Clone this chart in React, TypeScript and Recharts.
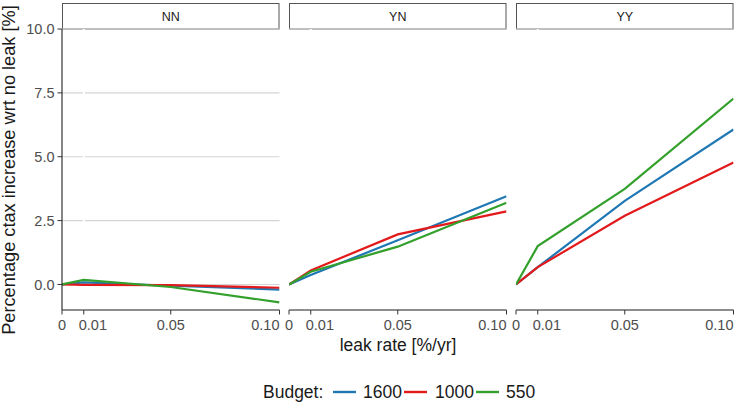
import React from "react";
import { LineChart, Line, XAxis, YAxis, CartesianGrid, ReferenceLine } from "recharts";

const leakRates = [0, 0.01, 0.05, 0.1];
const xTicks = [0, 0.01, 0.05, 0.1];
const xTickLabels = ["0", "0.01", "0.05", "0.10"];
const yTicks = [0, 2.5, 5, 7.5, 10];
const yTickLabels = ["0.0", "2.5", "5.0", "7.5", "10.0"];
const panels = ["NN", "YN", "YY"];
const budgets = ["1600", "1000", "550"];
const colors = ["#1f78b4", "#e31a1c", "#33a02c"];

// values per panel, per budget
const nn1600 = [0, 0.08, -0.05, -0.2];
const nn1000 = [0, -0.02, -0.03, -0.13];
const nn550 = [0, 0.18, -0.1, -0.7];
const yn1600 = [0, 0.37, 1.73, 3.45];
const yn1000 = [0, 0.55, 1.96, 2.86];
const yn550 = [0, 0.5, 1.48, 3.2];
const yy1600 = [0, 0.68, 3.27, 6.07];
const yy1000 = [0, 0.68, 2.69, 4.77];
const yy550 = [0, 1.5, 3.74, 7.28];

const panelSeries = [
  [nn1600, nn1000, nn550],
  [yn1600, yn1000, yn550],
  [yy1600, yy1000, yy550],
];

const buildData = (series: number[][]) =>
  leakRates.map((x, i) => ({
    x,
    b1600: series[0][i],
    b1000: series[1][i],
    b550: series[2][i],
  }));

const FONT = "'Liberation Sans', Arial, Helvetica, sans-serif";
const PLOT_W = 217.5;
const PLOT_TOP = 29;
const PLOT_H = 281;
const X_AXIS_H = 30;
const panelLefts = [62, 289, 516];
const M_TOP = 12;
const M_SIDE = 24;
const TICK_FONT = 14.5;
const TICK_COLOR = "#4d4d4d";

// label alignment per x tick (as drawn in the reference)
const xTickAnchor = ["middle", "start", "middle", "end"];
const xTickDx = [0, -5, 0, 0];

const yFmt = (v: number) => {
  const i = yTicks.indexOf(v);
  return i >= 0 ? yTickLabels[i] : String(v);
};

function XTick(props: any) {
  const { x, y, payload } = props;
  const i = xTicks.indexOf(payload.value);
  return (
    <text
      x={x + (i >= 0 ? xTickDx[i] : 0)}
      y={y}
      dy="0.71em"
      textAnchor={i >= 0 ? xTickAnchor[i] : "middle"}
      fill={TICK_COLOR}
      fontSize={TICK_FONT}
      fontFamily={FONT}
    >
      {i >= 0 ? xTickLabels[i] : String(payload.value)}
    </text>
  );
}

function Panel({ idx }: { idx: number }) {
  const data = buildData(panelSeries[idx]);
  const first = idx === 0;
  const yW = first ? 62 : 0;
  const mLeft = first ? 0 : M_SIDE;
  const left = panelLefts[idx] - yW - mLeft;
  return (
    <div style={{ position: "absolute", left, top: PLOT_TOP - M_TOP }}>
      <LineChart
        width={mLeft + yW + PLOT_W + M_SIDE}
        height={M_TOP + PLOT_H + X_AXIS_H}
        data={data}
        margin={{ top: M_TOP, right: M_SIDE, bottom: 0, left: mLeft }}
      >
        <CartesianGrid vertical={false} stroke="#d4d4d4" strokeWidth={1.1} />
        <ReferenceLine x={0.01} stroke="#ffffff" strokeWidth={2} ifOverflow="hidden" />
        <XAxis
          dataKey="x"
          type="number"
          domain={[0, 0.1]}
          ticks={xTicks}
          height={X_AXIS_H}
          interval={0}
          tickSize={4.5}
          tickLine={{ stroke: "#333333" }}
          axisLine={{ stroke: "#333333", strokeWidth: 1.2 }}
          tick={<XTick />}
          tickMargin={5}
          allowDataOverflow
        />
        <YAxis
          type="number"
          domain={[-1, 10]}
          ticks={yTicks}
          tickFormatter={yFmt}
          width={yW}
          interval={0}
          allowDataOverflow
          tick={first ? { fill: TICK_COLOR, fontSize: TICK_FONT, fontFamily: FONT } : false}
          tickSize={first ? 4.5 : 0}
          tickLine={first ? { stroke: "#333333" } : false}
          axisLine={first ? { stroke: "#333333", strokeWidth: 1.2 } : false}
          tickMargin={3}
        />
        {budgets.map((b, i) => (
          <Line
            key={b}
            type="linear"
            dataKey={"b" + b}
            stroke={colors[i]}
            strokeWidth={2.2}
            dot={false}
            isAnimationActive={false}
          />
        ))}
      </LineChart>
    </div>
  );
}

export default function App() {
  const legendItems = [
    { lx: 333, tx: 363 },
    { lx: 404, tx: 435 },
    { lx: 476, tx: 506 },
  ];
  return (
    <div
      style={{
        position: "fixed",
        left: 0,
        top: 0,
        width: 737,
        height: 405,
        background: "#ffffff",
        fontFamily: FONT,
        overflow: "hidden",
      }}
    >
      <svg
        width={737}
        height={405}
        style={{ position: "absolute", left: 0, top: 0 }}
        fontFamily={FONT}
      >
        {panels.map((p, i) => (
          <g key={p}>
            <rect
              x={panelLefts[i] + 0.5}
              y={3.5}
              width={PLOT_W - 1}
              height={25.5}
              fill="#ffffff"
              stroke="#555555"
              strokeWidth={1}
            />
            <text
              x={panelLefts[i] + PLOT_W / 2}
              y={20.5}
              textAnchor="middle"
              fontSize={12.5}
              fill="#1a1a1a"
            >
              {p}
            </text>
          </g>
        ))}
        <text
          transform="translate(15,170) rotate(-90)"
          textAnchor="middle"
          fontSize={18.2}
          fill="#1a1a1a"
        >
          Percentage ctax increase wrt no leak [%]
        </text>
        <text x={398} y={351} textAnchor="middle" fontSize={17.5} fill="#1a1a1a">
          leak rate [%/yr]
        </text>
        <text x={263} y={398} fontSize={17.5} fill="#1a1a1a">
          Budget:
        </text>
        {budgets.map((b, i) => (
          <g key={b}>
            <line
              x1={legendItems[i].lx}
              x2={legendItems[i].lx + 23}
              y1={392}
              y2={392}
              stroke={colors[i]}
              strokeWidth={2.4}
            />
            <text x={legendItems[i].tx} y={398} fontSize={17.5} fill="#1a1a1a">
              {b}
            </text>
          </g>
        ))}
      </svg>
      {panels.map((p, i) => (
        <Panel key={p} idx={i} />
      ))}
    </div>
  );
}
